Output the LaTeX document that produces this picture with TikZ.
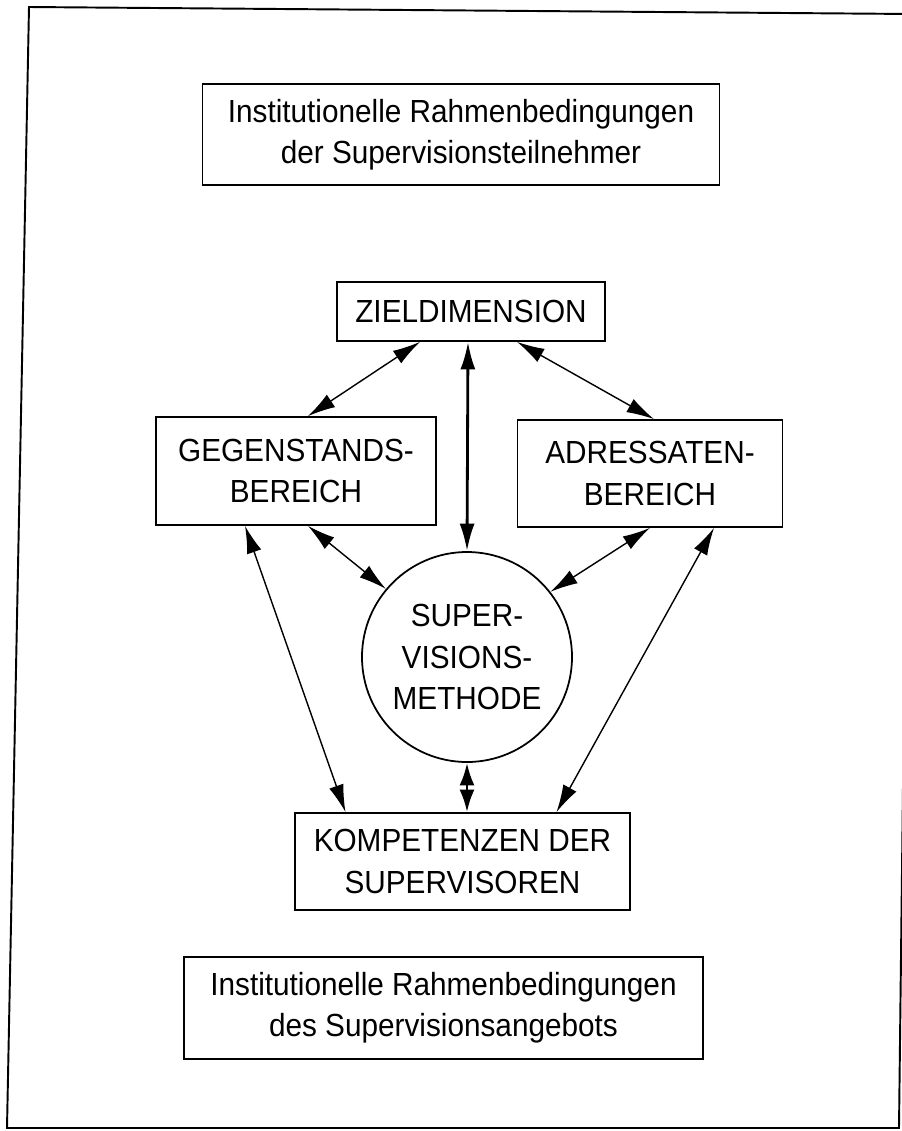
\documentclass[tikz,border=0pt]{standalone}
\usepackage{fontspec}
\setmainfont{Liberation Sans}[FakeStretch=0.93]
\usetikzlibrary{arrows.meta}

\begin{document}
\begin{tikzpicture}[x=0.2mm, y=-0.2mm,
    box/.style={draw, line width=1pt, align=center, inner sep=0pt,
        font=\fontsize{18.2}{23.5}\selectfont},
    link/.style={{Latex[length=5.5mm, width=3mm]}-{Latex[length=5.5mm, width=3mm]}, line width=0.8pt},
    shortlink/.style={{Latex[length=4.5mm, width=3mm]}-{Latex[length=4.5mm, width=3mm]}, line width=1.6pt}]
    \useasboundingbox (0, 0) rectangle (902, 1131);
    % frame of the scanned page
    \draw[line width=1.1pt] (29, 7) -- (912, 14) -- (899, 1128) -- (7, 1128) -- cycle;

    \node[box, minimum width=10.34cm, minimum height=2.02cm] (teilnehmer) at (461, 134.5)
        {Institutionelle Rahmenbedingungen\\der Supervisionsteilnehmer};
    \node[box, minimum width=5.36cm, minimum height=1.18cm] (ziel) at (471, 311.5) {ZIELDIMENSION};
    \node[box, minimum width=5.6cm, minimum height=2.16cm] (gegen) at (296, 471) {GEGENSTANDS-\\BEREICH};
    \node[box, minimum width=5.3cm, minimum height=2.14cm] (adress) at (650, 473.5) {ADRESSATEN-\\BEREICH};
    \node[box, circle, minimum size=4.2cm] (methode) at (467, 657) {SUPER-\\VISIONS-\\METHODE};
    \node[box, minimum width=6.7cm, minimum height=1.94cm] (komp) at (462.5, 861.5) {KOMPETENZEN DER\\SUPERVISOREN};
    \node[box, minimum width=10.38cm, minimum height=2.04cm] (angebot) at (443.5, 1008)
        {Institutionelle Rahmenbedingungen\\des Supervisionsangebots};

    \draw[link] ([xshift=-1.02cm]ziel.south) -- ([xshift=0.24cm]gegen.north);
    \draw[link, line width=1.6pt] ([xshift=-0.06cm]ziel.south) -- (methode.north);
    \draw[link] ([xshift=0.92cm]ziel.south) -- ([xshift=0.08cm]adress.north);
    \draw[link] ([xshift=0.24cm]gegen.south) -- (methode.140);
    \draw[link] (adress.south) -- (methode.38);
    \draw[link] ([xshift=-1.02cm]gegen.south) -- ([xshift=-2.34cm]komp.north);
    \draw[link] ([xshift=1.28cm]adress.south) -- ([xshift=1.88cm]komp.north);
    \draw[shortlink] (methode.south) -- (methode.south |- komp.north);
\end{tikzpicture}
\end{document}
